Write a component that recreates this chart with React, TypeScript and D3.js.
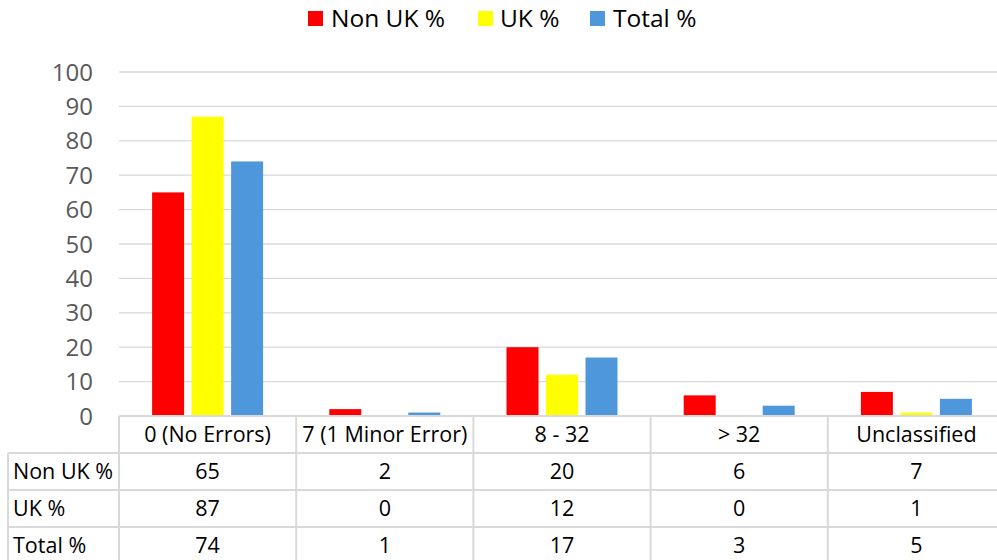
import React from "react";
import * as d3 from "d3";

const categories = ["0 (No Errors)", "7 (1 Minor Error)", "8 - 32", "> 32", "Unclassified"];
const seriesNames = ["Non UK %", "UK %", "Total %"];
const nonUK = [65, 2, 20, 6, 7];
const uk = [87, 0, 12, 0, 1];
const total = [74, 1, 17, 3, 5];
const colors = ["#FF0000", "#FFFF00", "#4F97DB"];
const yTicks = [0, 10, 20, 30, 40, 50, 60, 70, 80, 90, 100];

const W = 997, H = 560;
const FONT = "'Open Sans', 'Liberation Sans', sans-serif";

export default function App() {
  const series = [nonUK, uk, total];
  const x0 = 119, x1 = 1005;
  const x = d3.scaleBand().domain(categories).range([x0, x1]).paddingInner(0).paddingOuter(0);
  const y = d3.scaleLinear().domain([0, 100]).range([416, 72]);
  const barW = 32, gap = 7.5;
  const groupW = barW * 3 + gap * 2;
  const rowTops = [416, 453, 490, 527, 564];
  const grid = "#D9D9D9";
  return (
    <svg width={W} height={H} style={{ position: "absolute", left: 0, top: 0, fontFamily: FONT }}>
      <rect width={W} height={H} fill="#fff" />
      {yTicks.map((t) => (
        <g key={t}>
          {t > 0 && <line x1={x0} x2={W} y1={y(t)} y2={y(t)} stroke={grid} strokeWidth={1.3} />}
          <text x={93} y={y(t)} dy="0.36em" textAnchor="end" fontSize={24} fill="#595959">{t}</text>
        </g>
      ))}
      {categories.map((c, i) => {
        const cx = x(c)! + x.bandwidth() / 2;
        return series.map((s, j) => (
          <rect key={c + j} x={cx - groupW / 2 + j * (barW + gap)} y={y(s[i])} width={barW}
            height={y(0) - y(s[i])} fill={colors[j]} />
        ));
      })}
      {/* table */}
      <g stroke={grid} strokeWidth={2} fill="none">
        <line x1={x0} x2={W} y1={rowTops[0]} y2={rowTops[0]} />
        {rowTops.slice(1, 4).map((r) => <line key={r} x1={8} x2={W} y1={r} y2={r} />)}
        <line x1={8} x2={8} y1={rowTops[1]} y2={H} />
        {categories.map((c) => <line key={c} x1={x(c)!} x2={x(c)!} y1={rowTops[0]} y2={H} />)}
      </g>
      {categories.map((c) => (
        <text key={c} x={x(c)! + x.bandwidth() / 2} y={(rowTops[0] + rowTops[1]) / 2} dy="0.36em"
          textAnchor="middle" fontSize={21.5} fill="#000">{c}</text>
      ))}
      {series.map((s, j) => (
        <g key={j}>
          <text x={13} y={(rowTops[j + 1] + rowTops[j + 2]) / 2} dy="0.36em" fontSize={21.5} fill="#000">{seriesNames[j]}</text>
          {categories.map((c, i) => (
            <text key={c} x={x(c)! + x.bandwidth() / 2} y={(rowTops[j + 1] + rowTops[j + 2]) / 2} dy="0.36em"
              textAnchor="middle" fontSize={21.5} fill="#000">{s[i]}</text>
          ))}
        </g>
      ))}
      {/* legend */}
      {[[308, 331], [478, 500], [590, 613]].map(([sx, tx], j) => (
        <g key={j}>
          <rect x={sx} y={11} width={15} height={15} fill={colors[j]} />
          <text x={tx} y={18.5} dy="0.36em" fontSize={24.5} fill="#000">{seriesNames[j]}</text>
        </g>
      ))}
    </svg>
  );
}
